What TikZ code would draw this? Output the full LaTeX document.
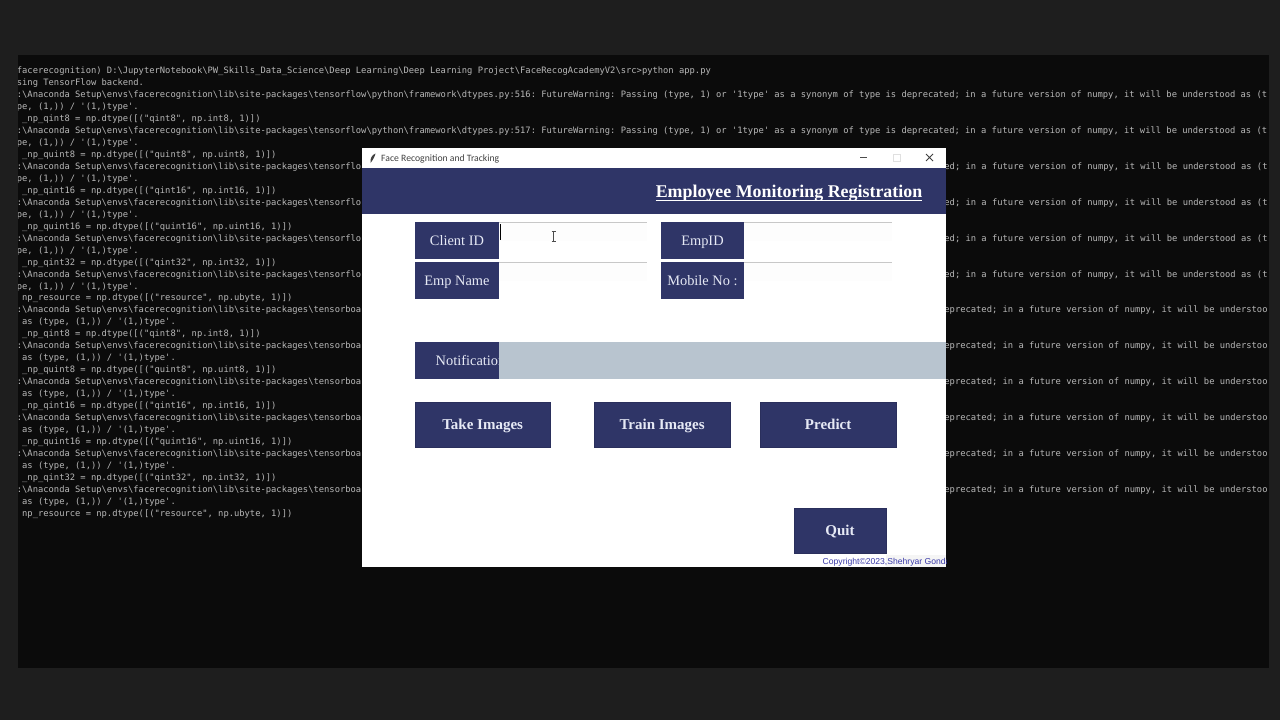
\documentclass[tikz,border=0pt]{standalone}
\usepackage{fontspec}
\setmainfont{Liberation Serif}
\newfontfamily\termfont{DejaVu Sans Mono}
\newfontfamily\uifont{Carlito}
\newfontfamily\arialfont{Liberation Sans}
\definecolor{outerbg}{HTML}{1E1E1E}
\definecolor{termbg}{HTML}{0B0B0B}
\definecolor{termtext}{HTML}{B8B8B8}
\definecolor{navy}{HTML}{2F3567}
\definecolor{navyedge}{HTML}{2A2F5C}
\definecolor{lighttext}{HTML}{E6E9F5}
\definecolor{band}{HTML}{B8C4CF}
\definecolor{entryline}{HTML}{C8C8C8}
\definecolor{entryfill}{HTML}{FDFDFD}
\definecolor{copyblue}{HTML}{3A3AA8}
\tikzset{
  termline/.style={anchor=west,inner sep=0pt,text height=8pt,text depth=2pt,text=termtext,font=\termfont\fontsize{8.8}{10}\selectfont\frenchspacing},
  labelbox/.style={fill=navy,inner sep=0pt,minimum width=83.5pt,minimum height=37pt,text height=10pt,text depth=0pt,text=lighttext,font=\fontsize{14.4}{16}\selectfont},
  actionbtn/.style={fill=navy,draw=navyedge,line width=0.5pt,inner sep=0pt,minimum width=135.2pt,minimum height=44.5pt,text height=10pt,text depth=0pt,text=lighttext,font=\bfseries\fontsize{15}{17}\selectfont},
  entrybox/.style={fill=entryfill,inner sep=0pt,minimum width=148pt,minimum height=19pt},
  entrytop/.style={entryline,line width=0.7pt}
}
\newcommand{\bsl}{\char`\\}
\newcommand{\us}{\char`\_}
\newcommand{\tfwarn}[1]{D:\bsl Anaconda Setup\bsl envs\bsl facerecognition\bsl lib\bsl site-packages\bsl tensorflow\bsl python\bsl framework\bsl dtypes.py:#1: FutureWarning: Passing (type, 1) or '1type' as a synonym of type is deprecated; in a future version of numpy, it will be understood as (t}
\newcommand{\tfleft}{D:\bsl Anaconda Setup\bsl envs\bsl facerecognition\bsl lib\bsl site-packages\bsl tensorflo}
\newcommand{\tbleft}{D:\bsl Anaconda Setup\bsl envs\bsl facerecognition\bsl lib\bsl site-packages\bsl tensorboa}
\newcommand{\tfright}{ed; in a future version of numpy, it will be understood as (t}
\newcommand{\tbright}{eprecated; in a future version of numpy, it will be understoo}
\newcommand{\tfrest}{ype, (1,)) / '(1,)type'.}
\newcommand{\tbrest}{d as (type, (1,)) / '(1,)type'.}
\newcommand{\npa}{\ \ \us np\us qint8 = np.dtype([("qint8", np.int8, 1)])}
\newcommand{\npb}{\ \ \us np\us quint8 = np.dtype([("quint8", np.uint8, 1)])}
\newcommand{\npc}{\ \ \us np\us qint16 = np.dtype([("qint16", np.int16, 1)])}
\newcommand{\npd}{\ \ \us np\us quint16 = np.dtype([("quint16", np.uint16, 1)])}
\newcommand{\npe}{\ \ \us np\us qint32 = np.dtype([("qint32", np.int32, 1)])}
\newcommand{\npf}{\ \ np\us resource = np.dtype([("resource", np.ubyte, 1)])}
\begin{document}
\begin{tikzpicture}[x=1pt,y=-1pt]
\useasboundingbox (0,0) rectangle (1280,720);
\fill[outerbg] (0,0) rectangle (1280,720);
\fill[termbg] (18,55) rectangle (1269,668);
\begin{scope}
\clip (18,55) rectangle (1267,668);
\node[termline] (l1) at (11.4,70) {(facerecognition) D:\bsl JupyterNotebook\bsl PW\us Skills\us Data\us Science\bsl Deep Learning\bsl Deep Learning Project\bsl FaceRecogAcademyV2\bsl src>python app.py};
\node[termline] (l2) at (11.4,82) {Using TensorFlow backend.};
\node[termline] (l3) at (11.4,94) {\tfwarn{516}};
\node[termline] (l4) at (11.4,106) {\tfrest};
\node[termline] (l5) at (11.4,118) {\npa};
\node[termline] (l6) at (11.4,130) {\tfwarn{517}};
\node[termline] (l7) at (11.4,142) {\tfrest};
\node[termline] (l8) at (11.4,154) {\npb};
\node[termline] (l9) at (11.4,166) {\tfleft};
\node[termline] (l10) at (11.4,178) {\tfrest};
\node[termline] (l11) at (11.4,190) {\npc};
\node[termline] (l12) at (11.4,202) {\tfleft};
\node[termline] (l13) at (11.4,214) {\tfrest};
\node[termline] (l14) at (11.4,226) {\npd};
\node[termline] (l15) at (11.4,238) {\tfleft};
\node[termline] (l16) at (11.4,250) {\tfrest};
\node[termline] (l17) at (11.4,262) {\npe};
\node[termline] (l18) at (11.4,274) {\tfleft};
\node[termline] (l19) at (11.4,286) {\tfrest};
\node[termline] (l20) at (11.4,297.5) {\npf};
\node[termline] (l21) at (11.4,309.5) {\tbleft};
\node[termline] (l22) at (11.4,321.5) {\tbrest};
\node[termline] (l23) at (11.4,333.5) {\npa};
\node[termline] (l24) at (11.4,345.5) {\tbleft};
\node[termline] (l25) at (11.4,357.5) {\tbrest};
\node[termline] (l26) at (11.4,369.5) {\npb};
\node[termline] (l27) at (11.4,381.5) {\tbleft};
\node[termline] (l28) at (11.4,393.5) {\tbrest};
\node[termline] (l29) at (11.4,405.5) {\npc};
\node[termline] (l30) at (11.4,417.5) {\tbleft};
\node[termline] (l31) at (11.4,429.5) {\tbrest};
\node[termline] (l32) at (11.4,441) {\npd};
\node[termline] (l33) at (11.4,453) {\tbleft};
\node[termline] (l34) at (11.4,465) {\tbrest};
\node[termline] (l35) at (11.4,477) {\npe};
\node[termline] (l36) at (11.4,489) {\tbleft};
\node[termline] (l37) at (11.4,501) {\tbrest};
\node[termline] (l38) at (11.4,513) {\npf};
\end{scope}
\begin{scope}
\clip (946,148) rectangle (1267,668);
\node[termline] (r9) at (944.2,166) {\tfright};
\node[termline] (r12) at (944.2,202) {\tfright};
\node[termline] (r15) at (944.2,238) {\tfright};
\node[termline] (r18) at (944.2,274) {\tfright};
\node[termline] (r21) at (944.2,309.5) {\tbright};
\node[termline] (r24) at (944.2,345.5) {\tbright};
\node[termline] (r27) at (944.2,381.5) {\tbright};
\node[termline] (r30) at (944.2,417.5) {\tbright};
\node[termline] (r33) at (944.2,453) {\tbright};
\node[termline] (r36) at (944.2,489) {\tbright};
\end{scope}
% window
\fill[white] (362,148) rectangle (946,567);
\fill[navy] (362,168) rectangle (946,214);
\node[anchor=west,inner sep=0pt,text=black!75,font=\uifont\fontsize{9.7}{11}\selectfont] (wintitle) at (381,158.5) {Face Recognition and Tracking};
\fill[black!75] (375.5,153.5) .. controls (375,156) and (373,160) .. (370.5,163) .. controls (370,159) and (371.5,155) .. (375.5,153.5) -- cycle;
\draw[black!70,line width=0.8pt] (860,157.5) -- (867,157.5);
\draw[black!12,line width=0.7pt] (893,154) rectangle (900,161);
\draw[black!75,line width=0.8pt] (926,154) -- (933,161) (933,154) -- (926,161);
\node[anchor=south,inner sep=0pt,text height=13pt,text depth=3pt,text=white,font=\bfseries\fontsize{17.9}{20}\selectfont] (heading) at (789,200.5) {Employee Monitoring Registration};
\draw[white,line width=1.3pt] (heading.south west) -- (heading.south east);
% labels and entries
\node[labelbox,anchor=north west] (client) at (415,222) {Client ID};
\node[labelbox,anchor=north west] (empname) at (415,262) {Emp Name};
\node[labelbox,anchor=north west] (empid) at (660.5,222) {EmpID};
\node[labelbox,anchor=north west] (mobile) at (660.5,262) {Mobile No :};
\node[entrybox,anchor=north west] (e1) at (499,222) {};
\node[entrybox,anchor=north west] (e2) at (499,262) {};
\node[entrybox,anchor=north west] (e3) at (744,222) {};
\node[entrybox,anchor=north west] (e4) at (744,262) {};
\draw[entrytop] (e1.north west) -- (e1.north east);
\draw[entrytop] (e2.north west) -- (e2.north east);
\draw[entrytop] (e3.north west) -- (e3.north east);
\draw[entrytop] (e4.north west) -- (e4.north east);
\draw[black,line width=1pt] (500,224) -- (500,240);
\draw[black!70,line width=0.6pt] (553.5,232) -- (553.5,241) (551.5,231.5) -- (555.5,231.5) (551.5,241.5) -- (555.5,241.5);
% notification
\fill[band] (498,341.5) rectangle (946,379);
\fill[navy] (415,341.5) rectangle (498.5,379);
\begin{scope}
\clip (415,341.5) rectangle (498.5,379);
\node[anchor=west,inner sep=0pt,text height=10pt,text depth=0pt,text=lighttext,font=\fontsize{14.4}{16}\selectfont] (notif) at (435.5,360) {Notification};
\end{scope}
% buttons
\node[actionbtn,anchor=north west] (take) at (414.8,402) {Take Images};
\node[actionbtn,anchor=north west] (train) at (594.3,402) {Train Images};
\node[actionbtn,anchor=north west] (predict) at (760.3,402) {Predict};
\node[actionbtn,anchor=north west,minimum width=91.5pt] (quit) at (794,508) {Quit};
% copyright
\fill[black!4] (886,555) rectangle (946,567);
\begin{scope}
\clip (362,148) rectangle (946,567);
\node[anchor=west,inner sep=0pt,text=copyblue,font=\arialfont\fontsize{8.6}{10}\selectfont] (copy) at (822.5,562.5) {Copyright©2023,Shehryar Gondal};
\end{scope}
\end{tikzpicture}
\end{document}
